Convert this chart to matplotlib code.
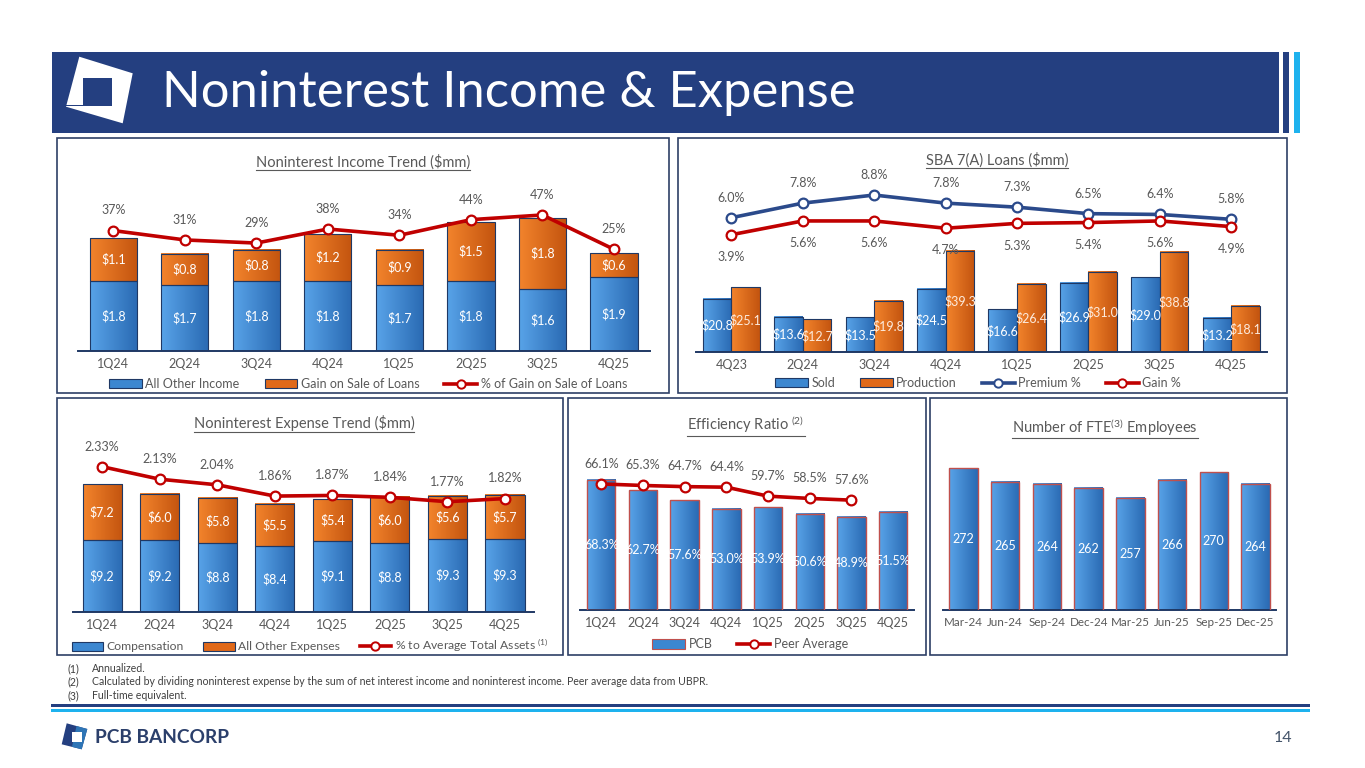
import numpy as np
import matplotlib
matplotlib.use('Agg')
import matplotlib.pyplot as plt
from matplotlib.patches import Rectangle, Polygon, Patch
from matplotlib.lines import Line2D
from matplotlib.colors import LinearSegmentedColormap

plt.rcParams['font.family'] = ['Lato', 'DejaVu Sans']
plt.rcParams['mathtext.fontset'] = 'custom'
plt.rcParams['mathtext.rm'] = 'Lato'
plt.rcParams['mathtext.it'] = 'Lato:italic'
plt.rcParams['mathtext.bf'] = 'Lato:bold'

# ---- data ----
quarters = ['1Q24', '2Q24', '3Q24', '4Q24', '1Q25', '2Q25', '3Q25', '4Q25']
inc_other = [1.8, 1.7, 1.8, 1.8, 1.7, 1.8, 1.6, 1.9]
inc_gain = [1.1, 0.8, 0.8, 1.2, 0.9, 1.5, 1.8, 0.6]
inc_gain_pct = [37, 31, 29, 38, 34, 44, 47, 25]

sba_quarters = ['4Q23', '2Q24', '3Q24', '4Q24', '1Q25', '2Q25', '3Q25', '4Q25']
sba_sold = [20.8, 13.6, 13.5, 24.5, 16.6, 26.9, 29.0, 13.2]
sba_prod = [25.1, 12.7, 19.8, 39.3, 26.4, 31.0, 38.8, 18.1]
sba_premium = [6.0, 7.8, 8.8, 7.8, 7.3, 6.5, 6.4, 5.8]
sba_gain = [3.9, 5.6, 5.6, 4.7, 5.3, 5.4, 5.6, 4.9]

exp_comp = [9.2, 9.2, 8.8, 8.4, 9.1, 8.8, 9.3, 9.3]
exp_other = [7.2, 6.0, 5.8, 5.5, 5.4, 6.0, 5.6, 5.7]
exp_pct = [2.33, 2.13, 2.04, 1.86, 1.87, 1.84, 1.77, 1.82]

eff_pcb = [68.3, 62.7, 57.6, 53.0, 53.9, 50.6, 48.9, 51.5]
eff_peer = [66.1, 65.3, 64.7, 64.4, 59.7, 58.5, 57.6]

fte_months = ['Mar-24', 'Jun-24', 'Sep-24', 'Dec-24', 'Mar-25', 'Jun-25', 'Sep-25', 'Dec-25']
fte_count = [272, 265, 264, 262, 257, 266, 270, 264]

footnotes = ['Annualized.',
             'Calculated by dividing noninterest expense by the sum of net interest income and noninterest income. Peer average data from UBPR.',
             'Full-time equivalent.']

# ---- style ----
NAVY = '#243F80'
EDGE = '#1F3864'
CYAN = '#1EB2EE'
RED = '#C00000'
GRAY = '#595959'
BLUE = '#3C87D0'
ORANGE = '#E0691A'
BAR_RED = '#C0504D'
BLUE_G = ('#58A3E8', '#2A6AB3')
ORANGE_G = ('#F3842C', '#C3540F')
FS = 9

W, H = 1365, 768
fig = plt.figure(figsize=(W / 100, H / 100), dpi=100)
bg = fig.add_axes([0, 0, 1, 1])
bg.set_xlim(0, W)
bg.set_ylim(H, 0)
bg.axis('off')


def px_axes(l, t, r, b):
    ax = fig.add_axes([l / W, 1 - b / H, (r - l) / W, (b - t) / H])
    ax.set_facecolor('none')
    for s in ['top', 'right', 'left']:
        ax.spines[s].set_visible(False)
    ax.spines['bottom'].set_color(EDGE)
    ax.spines['bottom'].set_linewidth(1.4)
    ax.set_yticks([])
    ax.tick_params(axis='x', length=0, pad=5.0, labelsize=FS, labelcolor=GRAY)
    return ax


def shade(ax, bars, cols):
    cmap = LinearSegmentedColormap.from_list('g', cols)
    grad = np.linspace(0, 1, 64)[None, :]
    for b in bars:
        x0, y0 = b.get_x(), b.get_y()
        ax.imshow(grad, cmap=cmap, aspect='auto', interpolation='bilinear',
                  extent=[x0, x0 + b.get_width(), y0, y0 + b.get_height()], zorder=2.5)
        b.set_facecolor('none')


def twin(ax):
    a2 = ax.twinx()
    a2.set_facecolor('none')
    for s in a2.spines.values():
        s.set_visible(False)
    a2.set_yticks([])
    return a2


def line(ax, xs, ys, color):
    ax.plot(xs, ys, color=color, lw=2.6, marker='o', ms=7, mfc='white',
            mec=color, mew=1.6, zorder=6, solid_capstyle='round')


def inner(ax, x, y, s):
    ax.text(x, y, s, ha='center', va='center', color='white', fontsize=FS, zorder=7)


def above(ax, x, y, s, dy=14.5):
    ax.annotate(s, (x, y), xytext=(0, dy), textcoords='offset points',
                ha='center', va='center', fontsize=FS, color=GRAY, zorder=7)


def legend(ax, handles, labels, cx, cy, ncol, size=FS, gap=2.0):
    ax.legend(handles, labels, loc='center', bbox_to_anchor=(cx / W, 1 - cy / H),
              bbox_transform=fig.transFigure, ncol=ncol, frameon=False, fontsize=size,
              labelcolor=GRAY, handlelength=2.6, handleheight=0.75,
              handletextpad=0.3, columnspacing=gap, borderpad=0)


titles = []


def panel_title(x, y, s):
    titles.append(bg.text(x, y, s, ha='center', va='center', fontsize=10.5, color=GRAY))


# ---- header ----
bg.add_patch(Rectangle((51.7, 51.5), 1227.6, 81, color=NAVY, lw=0))
bg.add_patch(Rectangle((1282.7, 51.5), 6.6, 81, color=NAVY, lw=0))
bg.add_patch(Rectangle((1294, 51.5), 6, 81, color=CYAN, lw=0))
bg.add_patch(Polygon([(79.3, 56.7), (132.7, 73.3), (122.7, 123.3), (66, 106.7)], color='white', lw=0))
bg.add_patch(Rectangle((83.3, 78.3), 28.4, 27.4, color=NAVY, lw=0))
bg.add_patch(Polygon([(66, 105), (111.7, 105), (111.7, 106.4), (66, 106.4)], color=NAVY, lw=0))
bg.text(162, 106.7, 'Noninterest Income & Expense', fontsize=36.5, color='white',
        ha='left', va='baseline')

# ---- panels ----
for l, t, r, b in [(57, 138, 669, 393), (678, 138, 1287, 393), (57, 398, 563, 655),
                   (568, 398, 926, 655), (930, 398, 1287, 655)]:
    bg.add_patch(Rectangle((l, t), r - l, b - t, fill=False, ec='#2E3F66', lw=1.2))

x = np.arange(8)
h_blue = lambda e: Patch(facecolor=BLUE, edgecolor=e, lw=0.8)
h_orange = Patch(facecolor=ORANGE, edgecolor=EDGE, lw=0.8)
h_line = lambda c: Line2D([], [], color=c, lw=2.6, marker='o', ms=6, mfc='white', mec=c, mew=1.4)

# ---- chart 1: noninterest income ----
panel_title(363, 161.7, 'Noninterest Income Trend ($mm)')
ax = px_axes(77.6, 180, 649.7, 351)
b1 = ax.bar(x, inc_other, 0.66, color=BLUE, ec=EDGE, lw=0.8, zorder=3)
b2 = ax.bar(x, inc_gain, 0.66, bottom=inc_other, color=ORANGE, ec=EDGE, lw=0.8, zorder=3)
shade(ax, b1, BLUE_G)
shade(ax, b2, ORANGE_G)
for i in range(8):
    inner(ax, i, inc_other[i] / 2, f'${inc_other[i]:.1f}')
    inner(ax, i, inc_other[i] + inc_gain[i] / 2, f'${inc_gain[i]:.1f}')
ax.set_xlim(-0.5, 7.5)
ax.set_ylim(0, (351 - 180) / 39)
ax.set_xticks(x, quarters)
a2 = twin(ax)
line(a2, x, inc_gain_pct, RED)
for i, v in enumerate(inc_gain_pct):
    above(a2, i, v, f'{v}%')
a2.set_ylim(25 - (351 - 249.3) / 1.56, 25 + (249.3 - 180) / 1.56)
legend(a2, [h_blue(EDGE), h_orange, h_line(RED)],
       ['All Other Income', 'Gain on Sale of Loans', '% of Gain on Sale of Loans'], 368, 384, 3)

# ---- chart 2: SBA 7(A) loans ----
panel_title(997, 160, 'SBA 7(A) Loans ($mm)')
ax = px_axes(695.7, 180, 1267, 352.3)
b1 = ax.bar(x - 0.2, sba_sold, 0.4, color=BLUE, ec=EDGE, lw=0.8, zorder=3)
b2 = ax.bar(x + 0.2, sba_prod, 0.4, color=ORANGE, ec=EDGE, lw=0.8, zorder=3)
shade(ax, b1, BLUE_G)
shade(ax, b2, ORANGE_G)
for i in range(8):
    inner(ax, i - 0.2, sba_sold[i] / 2, f'${sba_sold[i]:.1f}')
    ax.text(i + 0.2, sba_prod[i] / 2, f'${sba_prod[i]:.1f}', ha='center', va='center',
            color='#FDEBDD', fontsize=FS, zorder=7)
ax.set_xlim(-0.5, 7.5)
ax.set_ylim(0, (352.3 - 180) / 2.585)
ax.set_xticks(x, sba_quarters)
a2 = twin(ax)
line(a2, x, sba_premium, '#2B4A8B')
line(a2, x, sba_gain, RED)
for i in range(8):
    above(a2, i, sba_premium[i], f'{sba_premium[i]:.1f}%')
    above(a2, i, sba_gain[i], f'{sba_gain[i]:.1f}%', dy=-16)
a2.set_ylim(6.0 - (352.3 - 217.7) / 8.1, 6.0 + (217.7 - 180) / 8.1)
legend(a2, [h_blue(EDGE), h_orange, h_line('#2B4A8B'), h_line(RED)],
       ['Sold', 'Production', 'Premium %', 'Gain %'], 978, 383, 4)

# ---- chart 3: noninterest expense ----
panel_title(304, 423.3, 'Noninterest Expense Trend ($mm)')
ax = px_axes(73.4, 440, 533.8, 611.7)
b1 = ax.bar(x, exp_comp, 0.68, color=BLUE, ec=EDGE, lw=0.8, zorder=3)
b2 = ax.bar(x, exp_other, 0.68, bottom=exp_comp, color=ORANGE, ec=EDGE, lw=0.8, zorder=3)
shade(ax, b1, BLUE_G)
shade(ax, b2, ORANGE_G)
for i in range(8):
    inner(ax, i, exp_comp[i] / 2, f'${exp_comp[i]:.1f}')
    inner(ax, i, exp_comp[i] + exp_other[i] / 2, f'${exp_other[i]:.1f}')
ax.set_xlim(-0.5, 7.5)
ax.set_ylim(0, (611.7 - 440) / 7.77)
ax.set_xticks(x, quarters)
a2 = twin(ax)
line(a2, x, exp_pct, RED)
for i, v in enumerate(exp_pct):
    above(a2, i, v, f'{v:.2f}%')
a2.set_ylim(2.33 - (611.7 - 466.7) / 62.5, 2.33 + (466.7 - 440) / 62.5)
legend(a2, [h_blue(EDGE), h_orange, h_line(RED)],
       ['Compensation', 'All Other Expenses', r'% to Average Total Assets $^{\mathrm{(1)}}$'],
       310, 645.7, 3, size=8.7, gap=1.6)

# ---- chart 4: efficiency ratio ----
panel_title(746, 424.3, r'Efficiency Ratio $^{\mathrm{(2)}}$')
ax = px_axes(580.4, 440, 914, 610)
b1 = ax.bar(x, eff_pcb, 0.68, color=BLUE, ec=BAR_RED, lw=1.0, zorder=3)
shade(ax, b1, BLUE_G)
for i, v in enumerate(eff_pcb):
    inner(ax, i, v / 2, f'{v:.1f}%')
line(ax, x[:len(eff_peer)], eff_peer, RED)
for i, v in enumerate(eff_peer):
    above(ax, i, v, f'{v:.1f}%')
ax.set_xlim(-0.5, 7.5)
ax.set_ylim(0, 170 / 1.907)
ax.set_xticks(x, quarters)
legend(ax, [h_blue(BAR_RED), h_line(RED)], ['PCB', 'Peer Average'], 750, 644.3, 2)

# ---- chart 5: FTE employees ----
panel_title(1105, 426.7, r'Number of FTE$^{\mathrm{(3)}}$ Employees')
ax = px_axes(942.7, 440, 1276.3, 610)
b1 = ax.bar(x, fte_count, 0.68, bottom=0, color=BLUE, ec=BAR_RED, lw=1.0, zorder=3)
shade(ax, b1, BLUE_G)
for i, v in enumerate(fte_count):
    inner(ax, i, (200 + v) / 2, str(v))
ax.set_xticks(x, fte_months)
ax.tick_params(axis='x', labelsize=8.4)
ax.set_xlim(-0.5, 7.5)
ax.set_ylim(200, 200 + 170 / 1.97)

# ---- footnotes and footer ----
for k, (s, y) in enumerate(zip(footnotes, [668.3, 681.7, 695.7])):
    bg.text(67, y, f'({k + 1})', fontsize=7.6, color='#404040', va='center')
    bg.text(92, y, s, fontsize=7.6, color='#404040', va='center')
bg.add_patch(Rectangle((51, 704.3), 1259, 2.8, color=NAVY, lw=0))
bg.add_patch(Rectangle((51, 709.4), 1259, 2.8, color=CYAN, lw=0))
bg.add_patch(Polygon([(66.7, 723.3), (87.3, 729), (81.7, 749.3), (61.7, 744.3)], color=NAVY, lw=0))
bg.add_patch(Polygon([(76.5, 726), (87.3, 729), (81.7, 749.3), (72, 746.8)], color='#2E75B6', lw=0))
bg.add_patch(Rectangle((71.7, 732.3), 10, 10, color='white', lw=0))
bg.text(95, 737.7, 'PCB BANCORP', fontsize=13.8, fontweight='bold', color='#2B3F6B', va='center')
bg.text(1283, 738.3, '14', fontsize=11.5, color='#44546A', ha='center', va='center')

# underline the panel titles
fig.canvas.draw()
rend = fig.canvas.get_renderer()
for t in titles:
    bb = t.get_window_extent(rend)
    yy = H - bb.y0 + 0.5
    bg.plot([bb.x0, bb.x1], [yy, yy], color=GRAY, lw=0.8)

fig.savefig('out.png', dpi=100)
